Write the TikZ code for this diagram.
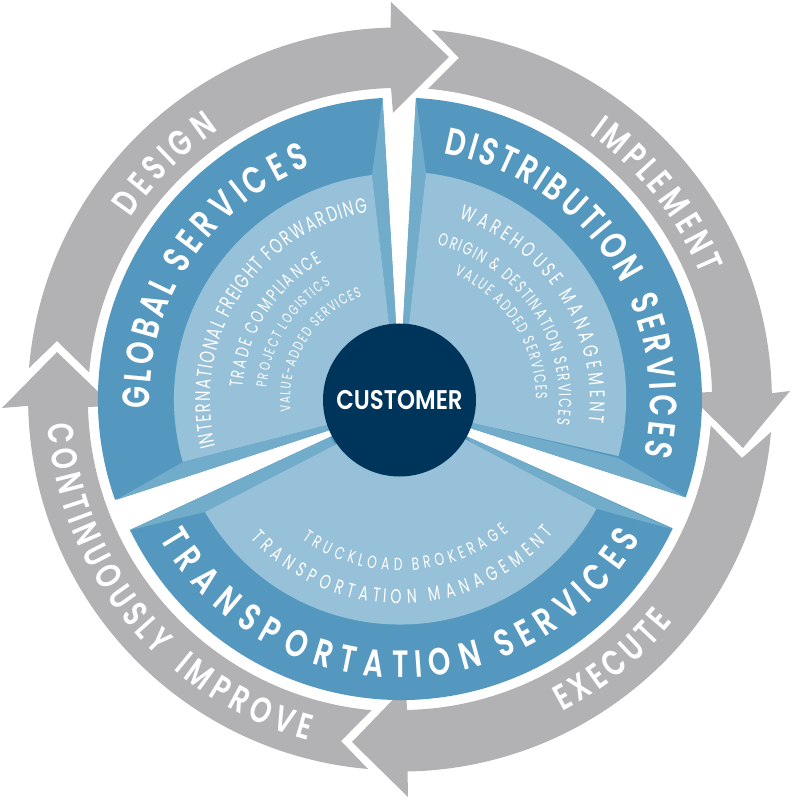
\documentclass[tikz,border=0pt]{standalone}
\usepackage{fontspec}
\setmainfont{Poppins}
\newfontfamily\headfont[FakeStretch=.75]{Poppins SemiBold}
\newfontfamily\middlefont[FakeStretch=.85]{Poppins SemiBold}
\newfontfamily\thinfont[FakeStretch=.7]{Poppins}
\usetikzlibrary{decorations.text}
\definecolor{ringgrey}{HTML}{B2B2B4}
\definecolor{darkblue}{HTML}{5498BF}
\definecolor{midblue}{HTML}{72ACCB}
\definecolor{lightblue}{HTML}{97C1D9}
\definecolor{navyblue}{HTML}{00355B}
\newcommand{\bigfont}{\headfont\fontsize{38}{38}\selectfont}
\newcommand{\ringfont}{\headfont\fontsize{36}{36}\selectfont}
\newcommand{\itemfont}[1]{\thinfont\fontsize{#1}{#1}\selectfont}
% text fitted to an arc: font, start angle, end angle, radius, text
\newcommand{\arclabel}[5]{\path[decorate, decoration={text effects along path, text={#5},
  text effects/.cd, text along path, fit text to path, characters={font=#1, text=white}}]
  (#2:#4pt) arc[start angle=#2, end angle=#3, radius=#4pt];}
\begin{document}
\begin{tikzpicture}[x=1pt, y=1pt]
\useasboundingbox (-400,-400.5) rectangle (400,399.5);
\tikzset{ringarrow/.style={fill=ringgrey}}
%grey ring
\fill[ringarrow] (-371,31.5) arc[start angle=175.15, end angle=91.4, radius=372pt] -- (-9,397.5) -- (49,342.5) -- (-7,286.5) -- (-9,311.5) arc[start angle=91.65, end angle=174.95, radius=312pt] -- (-343,58.5) -- cycle;
\fill[ringarrow] (32,369.5) arc[start angle=85.05, end angle=1.15, radius=372pt] -- (390,8.5) -- (343,-48.5) -- (287,6.5) -- (312,7.5) arc[start angle=1.38, end angle=84.85, radius=312pt] -- (59,341.5) -- cycle;
\fill[ringarrow] (371,-32.5) arc[start angle=-5, end angle=-88.9, radius=372pt] -- (8,-397.5) -- (-48,-342.5) -- (6,-286.5) -- (7,-310.5) arc[start angle=-88.7, end angle=-5.04, radius=312pt] -- (342,-58.5) -- cycle;
\fill[ringarrow] (-32,-369.5) arc[start angle=265.05, end angle=181.15, radius=372pt] -- (-398,-8.5) -- (-343,47.5) -- (-287,-6.5) -- (-312,-7.5) arc[start angle=181.38, end angle=264.83, radius=312pt] -- (-59,-341.5) -- cycle;
%global services
\fill[darkblue] (-17.5,301.5) arc[start angle=93.3, end angle=199.4, radius=302pt] -- (-70,-30.5) -- (0,0) -- (-4,75.5) -- cycle;
\fill[midblue] (-17.5,301.5) -- (-28,224.5) -- (-11,75.5) -- (-4,75.5) -- cycle;
\fill[midblue] (-284,-100.5) -- (-217,-62.5) -- (-73,-25.5) -- (-70,-30.5) -- cycle;
\fill[lightblue] (-28,224.5) arc[start angle=97.1, end angle=196.07, radius=226pt] -- (-73,-25.5) -- (0,0) -- (-11,75.5) -- cycle;
%distribution services
\fill[darkblue] (16,301.5) arc[start angle=86.96, end angle=-18.9, radius=302pt] -- (70,-28.5) -- (0,0) -- (3,75.5) -- cycle;
\fill[midblue] (16,301.5) -- (26,226.5) -- (9,75.5) -- (3,75.5) -- cycle;
\fill[midblue] (285,-97.5) -- (218,-58.5) -- (73,-23.5) -- (70,-28.5) -- cycle;
\fill[lightblue] (26,226.5) arc[start angle=83.45, end angle=-15.02, radius=226pt] -- (73,-23.5) -- (0,0) -- (9,75.5) -- cycle;
%transportation services
\fill[darkblue] (-270,-130.5) arc[start angle=205.8, end angle=334.54, radius=301pt] -- (68,-37.5) -- (0,0) -- (-70,-37.5) -- cycle;
\fill[midblue] (-270,-130.5) -- (-195,-112.5) -- (-65,-45.5) -- (-70,-37.5) -- cycle;
\fill[midblue] (272,-129.5) -- (197,-109.5) -- (70,-42.5) -- (68,-37.5) -- cycle;
\fill[lightblue] (-195,-112.5) arc[start angle=210, end angle=330.93, radius=225pt] -- (70,-42.5) -- (0,0) -- (-65,-45.5) -- cycle;
\node[circle, fill=navyblue, text=white, minimum size=153pt, inner sep=0pt, font=\middlefont\fontsize{27}{27}\selectfont] (customer) at (-.5,-.5) {CUSTOMER};
%labels on the ring
\arclabel{\ringfont}{146}{124}{325}{DESIGN}
\arclabel{\ringfont}{54.5}{22.5}{326}{IMPLEMENT}
\arclabel{\ringfont}{-62.5}{-39.2}{352}{EXECUTE}
\arclabel{\ringfont}{184}{226.5}{353}{CONTINUOUSLY}
\arclabel{\ringfont}{230}{255}{353}{IMPROVE}
%labels on the blue bands
\arclabel{\bigfont}{182}{153}{250}{GLOBAL}
\arclabel{\bigfont}{150}{111}{250}{SERVICES}
\arclabel{\bigfont}{80}{27.5}{250}{DISTRIBUTION}
\arclabel{\bigfont}{23.5}{-13}{250}{SERVICES}
\arclabel{\bigfont}{210}{287.5}{278}{TRANSPORTATION}
\arclabel{\bigfont}{291.5}{330}{278}{SERVICES}
%items
\arclabel{\itemfont{21}}{194.4}{99.7}{190}{INTERNATIONAL FREIGHT FORWARDING}
\arclabel{\itemfont{18.5}}{175.8}{119.7}{158}{TRADE COMPLIANCE}
\arclabel{\itemfont{14.5}}{175}{121}{134}{PROJECT LOGISTICS}
\arclabel{\itemfont{14.5}}{186.5}{110.3}{110}{VALUE-ADDED SERVICES}
\arclabel{\itemfont{21}}{72}{-7}{190}{WAREHOUSE MANAGEMENT}
\arclabel{\itemfont{17.5}}{76.5}{-9.2}{159}{ORIGIN \& DESTINATION SERVICES}
\arclabel{\itemfont{16}}{66.5}{0}{136}{VALUE ADDED SERVICES}
\arclabel{\itemfont{17.5}}{235}{309.5}{171}{TRUCKLOAD BROKERAGE}
\arclabel{\itemfont{20}}{223}{319}{204}{TRANSPORTATION MANAGEMENT}
\end{tikzpicture}
\end{document}
